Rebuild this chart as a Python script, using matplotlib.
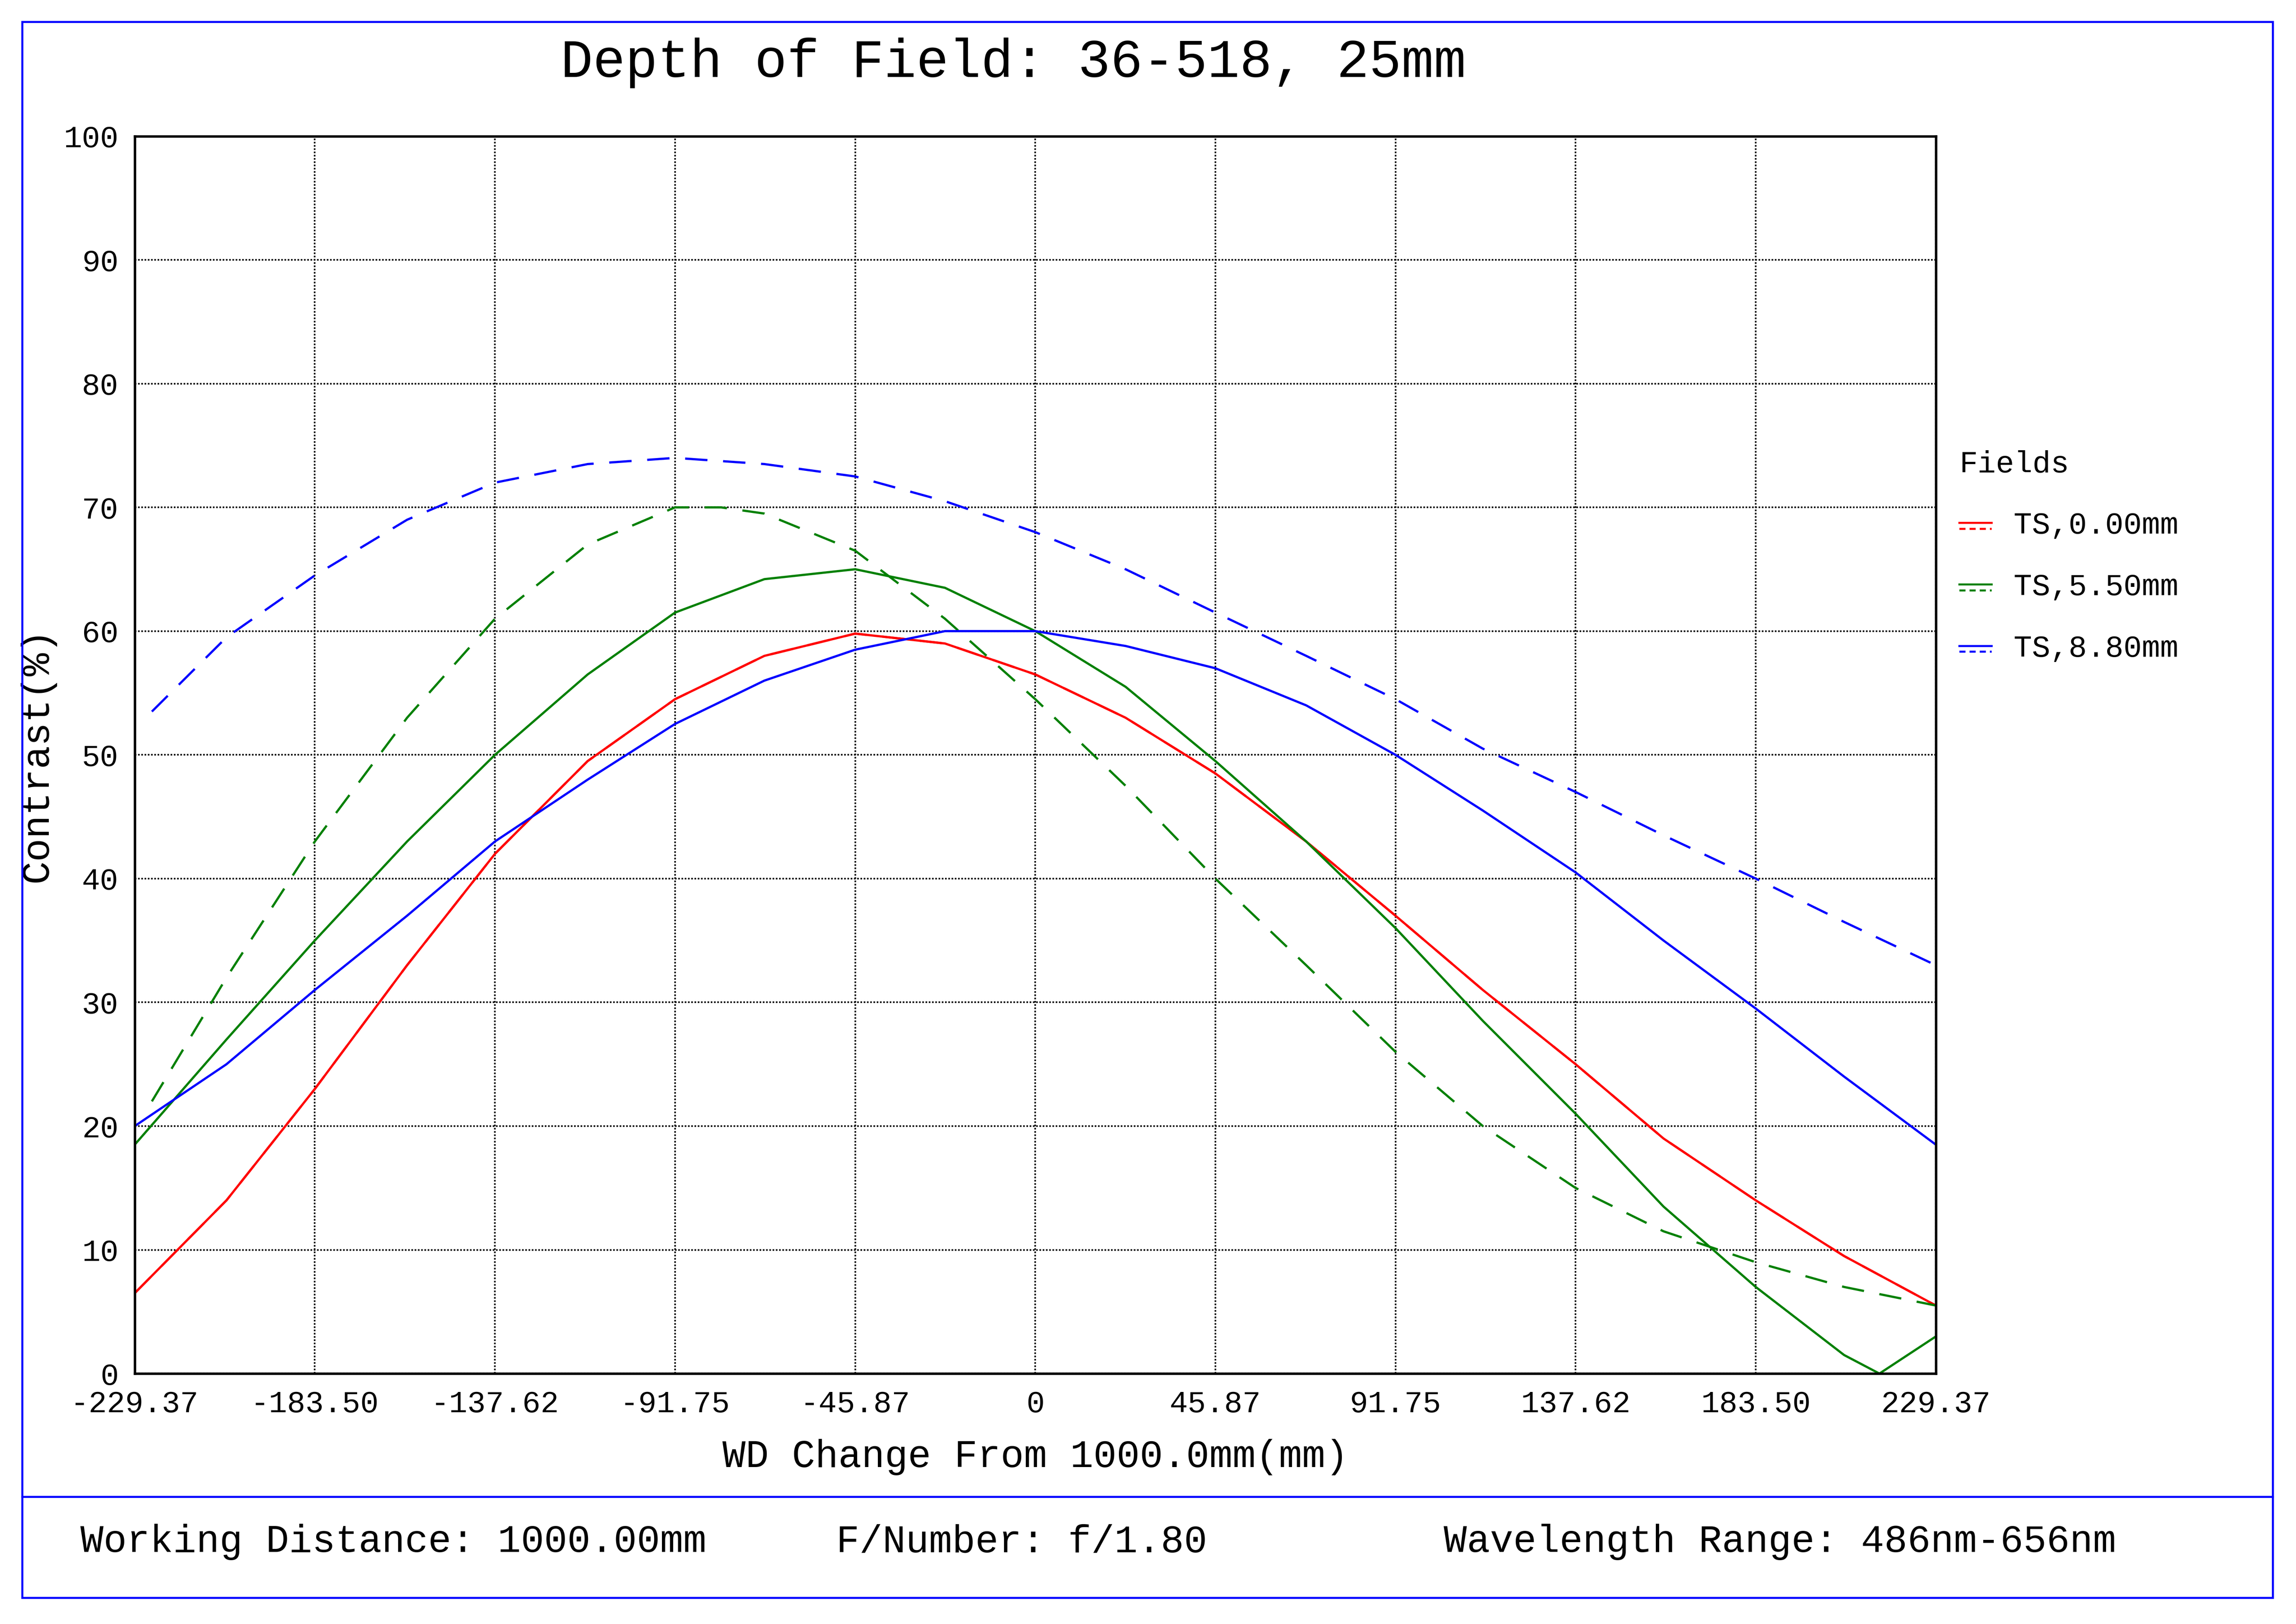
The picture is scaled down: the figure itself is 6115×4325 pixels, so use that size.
import matplotlib
matplotlib.use("Agg")
import matplotlib.pyplot as plt
from matplotlib.lines import Line2D
from matplotlib.patches import Rectangle

plt.rcParams['font.family'] = 'Liberation Mono'

xticks = [-229.37, -183.50, -137.62, -91.75, -45.87, 0, 45.87, 91.75, 137.62, 183.50, 229.37]
xtick_labels = ['-229.37', '-183.50', '-137.62', '-91.75', '-45.87', '0',
                '45.87', '91.75', '137.62', '183.50', '229.37']

x_red = [-229.37, -206, -183.5, -160, -137.62, -114, -91.75, -69, -45.87, -23, 0,
         23, 45.87, 69, 91.75, 114, 137.62, 160, 183.5, 206, 229.37]
red_s = [6.5, 14, 23, 33, 42, 49.5, 54.5, 58, 59.8, 59, 56.5,
         53, 48.5, 43, 37, 31, 25, 19, 14, 9.5, 5.5]

x_gs = [-229.37, -206, -183.5, -160, -137.62, -114, -91.75, -69, -45.87, -23, 0,
        23, 45.87, 69, 91.75, 114, 137.62, 160, 183.5, 206, 215, 229.37]
green_s = [18.5, 27, 35, 43, 50, 56.5, 61.5, 64.2, 65, 63.5, 60,
           55.5, 49.5, 43, 36, 28.5, 21, 13.5, 7, 1.5, 0, 3]

x_gt = [-225, -206, -183.5, -160, -137.62, -114, -91.75, -80, -69, -45.87, -23, 0,
        23, 45.87, 69, 91.75, 114, 137.62, 160, 183.5, 206, 229.37]
green_t = [22, 32, 43, 53, 61, 67, 70, 70, 69.5, 66.5, 61, 54.5,
           47.5, 40, 33, 26, 20, 15, 11.5, 9, 7, 5.5]

x_bs = [-229.37, -206, -183.5, -160, -137.62, -114, -91.75, -69, -45.87, -23, -12, 0,
        23, 45.87, 69, 91.75, 114, 137.62, 160, 183.5, 206, 229.37]
blue_s = [20, 25, 31, 37, 43, 48, 52.5, 56, 58.5, 60, 60, 60,
          58.8, 57, 54, 50, 45.5, 40.5, 35, 29.5, 24, 18.5]

x_bt = [-225, -206, -183.5, -160, -137.62, -114, -91.75, -69, -45.87, -23, 0,
        23, 45.87, 69, 91.75, 114, 137.62, 160, 183.5, 206, 229.37]
blue_t = [53.5, 59.5, 64.5, 69, 72, 73.5, 74, 73.5, 72.5, 70.5, 68,
          65, 61.5, 58, 54.5, 50.5, 47, 43.5, 40, 36.5, 33]

W, H = 1568, 1109
fig = plt.figure(figsize=(W / 100, H / 100), dpi=390)
ax = fig.add_axes([92 / W, 1 - 938 / H, (1322 - 92) / W, (938 - 93) / H])

dash = (0, (10, 7))
ax.plot(x_red, red_s, color='red', lw=1.1)
ax.plot(x_red, red_s, color='red', lw=1.1, linestyle=dash)
ax.plot(x_gs, green_s, color='green', lw=1.1)
ax.plot(x_gt, green_t, color='green', lw=1.1, linestyle=dash)
ax.plot(x_bs, blue_s, color='blue', lw=1.1)
ax.plot(x_bt, blue_t, color='blue', lw=1.1, linestyle=dash)

ax.set_xlim(-229.37, 229.37)
ax.set_ylim(0, 100)
ax.set_xticks(xticks)
ax.set_xticklabels(xtick_labels)
ax.set_yticks(range(0, 101, 10))
ax.tick_params(length=0, labelsize=15, pad=8)
ax.grid(True, color='black', linestyle=(0, (1, 1)), lw=0.8)
for s in ax.spines.values():
    s.set_linewidth(1.2)
ax.set_xlabel('WD Change From 1000.0mm(mm)', fontsize=19, labelpad=10)
ax.set_ylabel('Contrast(%)', fontsize=19, labelpad=4)

fig.text(692 / W, 1 - 43 / H, 'Depth of Field: 36-518, 25mm', fontsize=26.5,
         ha='center', va='center')

# legend
fig.text(1338 / W, 1 - 317 / H, 'Fields', fontsize=15, va='center')
for yy, col, lab in [(359, 'red', 'TS,0.00mm'), (401, 'green', 'TS,5.50mm'),
                     (443, 'blue', 'TS,8.80mm')]:
    fig.add_artist(Line2D([1338 / W, 1360 / W], [1 - (yy - 2) / H] * 2, color=col,
                          lw=1, transform=fig.transFigure))
    fig.add_artist(Line2D([1338 / W, 1360 / W], [1 - (yy + 2) / H] * 2, color=col,
                          lw=1, linestyle=(0, (3, 2)), transform=fig.transFigure))
    fig.text(1375 / W, 1 - yy / H, lab, fontsize=15, va='center')

# frames
fig.add_artist(Rectangle((15 / W, 1 - 1091 / H), (1552 - 15) / W, (1091 - 15) / H,
                         fill=False, edgecolor='blue', lw=1, transform=fig.transFigure))
fig.add_artist(Line2D([15 / W, 1552 / W], [1 - 1022 / H] * 2, color='blue', lw=1,
                      transform=fig.transFigure))

fig.text(55 / W, 1 - 1053 / H, 'Working Distance: 1000.00mm', fontsize=19, va='center')
fig.text(571 / W, 1 - 1053 / H, 'F/Number: f/1.80', fontsize=19, va='center')
fig.text(986 / W, 1 - 1053 / H, 'Wavelength Range: 486nm-656nm', fontsize=19, va='center')

fig.savefig('out.png', dpi=390)
